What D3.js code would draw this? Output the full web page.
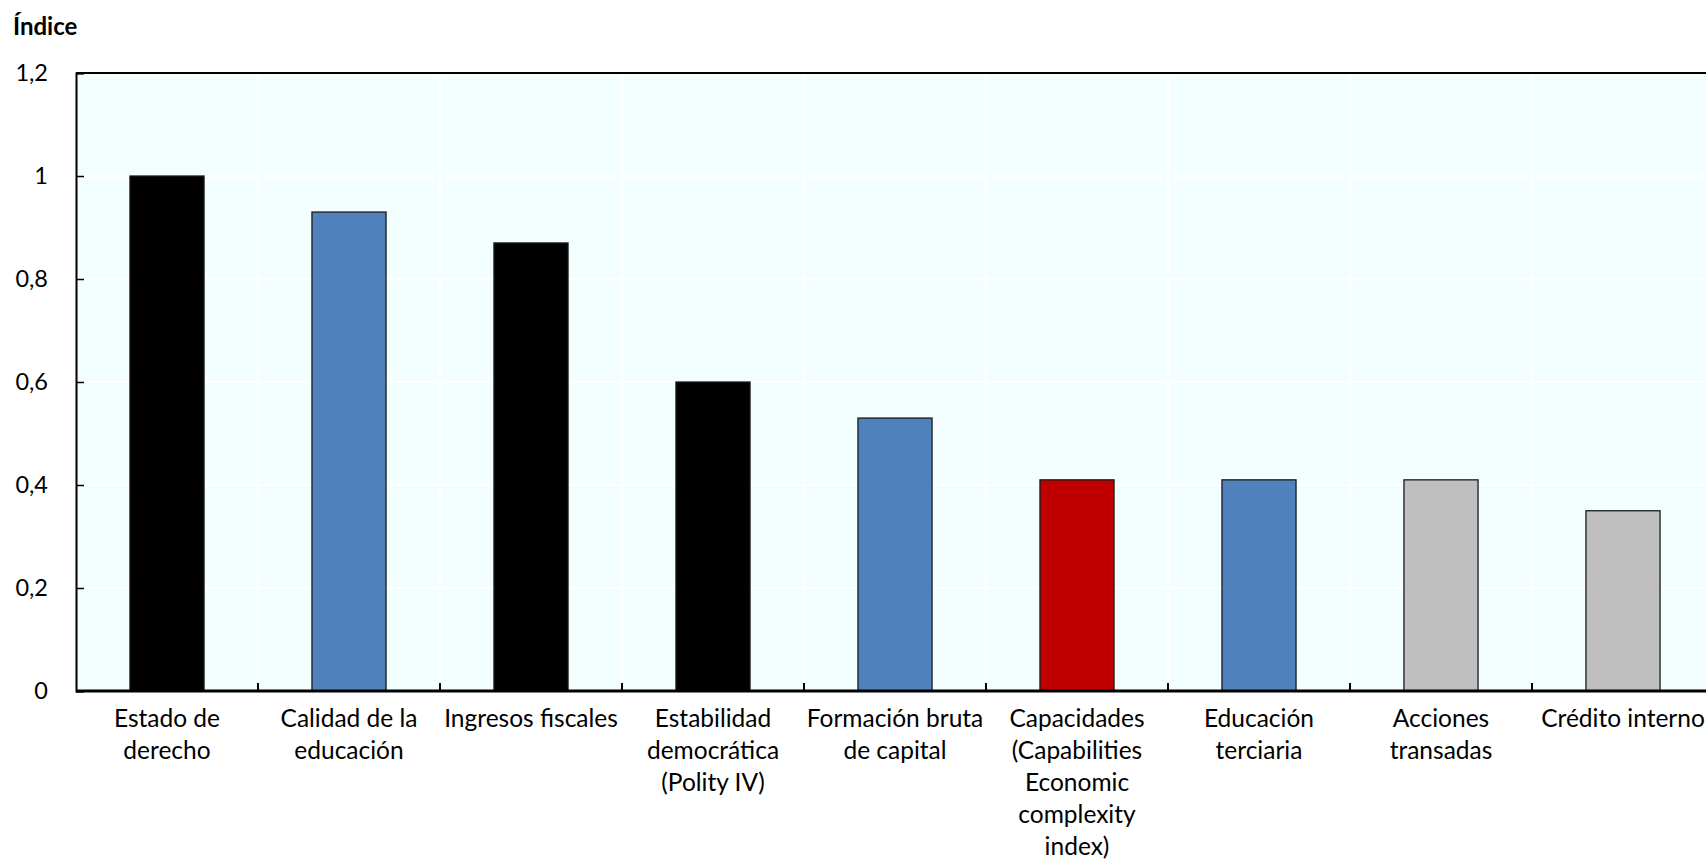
<!DOCTYPE html>
<html>
<head>
<meta charset="utf-8">
<script src="https://cdn.jsdelivr.net/npm/d3@7"></script>
<style>
  body { margin: 0; background: #fff; }
  svg text { font-family: Lato, "Open Sans", sans-serif; fill: #000; }
</style>
</head>
<body>
<div id="chart"></div>
<script>
// categories, one string per label line
var categories = [
    ["Estado de", "derecho"],
    ["Calidad de la", "educación"],
    ["Ingresos fiscales"],
    ["Estabilidad", "democrática", "(Polity IV)"],
    ["Formación bruta", "de capital"],
    ["Capacidades", "(Capabilities", "Economic", "complexity", "index)"],
    ["Educación", "terciaria"],
    ["Acciones", "transadas"],
    ["Crédito interno"]
];
var values = [1.0, 0.93, 0.87, 0.60, 0.53, 0.41, 0.41, 0.41, 0.35];
var groups = ["black", "blue", "black", "black", "blue", "red", "blue", "gray", "gray"];
var yTicks = [0, 0.2, 0.4, 0.6, 0.8, 1, 1.2];

var colors = {black: "#000000", blue: "#4f81bd", red: "#c00000", gray: "#bfbfbf"};

var W = 1706, H = 860;
var margin = {top: 73, left: 76, bottom: 169};
var plotRight = 1714;   // plot area runs a bit past the picture edge
var height = H - margin.top - margin.bottom;

var svg = d3.select("#chart").append("svg")
    .attr("width", W)
    .attr("height", H);

var keys = categories.map(function(d, i) { return i; });

var xScale = d3.scaleBand()
    .domain(keys)
    .range([margin.left, plotRight])
    .padding(0);

var yScale = d3.scaleLinear()
    .domain([0, 1.2])
    .range([margin.top + height, margin.top]);

var barW = xScale.bandwidth() * 0.407;

// plot background
svg.append("rect")
    .attr("x", margin.left)
    .attr("y", margin.top)
    .attr("width", plotRight - margin.left)
    .attr("height", height)
    .attr("fill", "#f3feff");

// white gridlines
svg.selectAll(".hgrid")
    .data(yTicks.slice(1))
    .enter().append("line")
    .attr("x1", margin.left).attr("x2", plotRight)
    .attr("y1", function(d) { return yScale(d); })
    .attr("y2", function(d) { return yScale(d); })
    .attr("stroke", "#fff").attr("stroke-width", 2);

svg.selectAll(".vgrid")
    .data(keys.slice(1))
    .enter().append("line")
    .attr("x1", function(d) { return xScale(d); })
    .attr("x2", function(d) { return xScale(d); })
    .attr("y1", margin.top).attr("y2", margin.top + height)
    .attr("stroke", "#fff").attr("stroke-width", 2);

// bars
svg.selectAll(".bar")
    .data(values)
    .enter().append("rect")
    .attr("class", "bar")
    .attr("x", function(d, i) { return xScale(i) + (xScale.bandwidth() - barW) / 2; })
    .attr("y", function(d) { return yScale(d); })
    .attr("width", barW)
    .attr("height", function(d) { return yScale(0) - yScale(d); })
    .attr("fill", function(d, i) { return colors[groups[i]]; })
    .attr("stroke", "#1a1a1a")
    .attr("stroke-width", 1.3);

// frame: top and left
svg.append("line")
    .attr("x1", margin.left).attr("x2", plotRight)
    .attr("y1", margin.top).attr("y2", margin.top)
    .attr("stroke", "#000").attr("stroke-width", 2);

// y axis, ticks pointing inward
var yAxis = d3.axisRight(yScale)
    .tickValues(yTicks)
    .tickSize(8)
    .tickFormat(function(d) { return d3.format("")(d).replace(".", ","); });

var gy = svg.append("g")
    .attr("transform", "translate(" + margin.left + ",0)")
    .call(yAxis);
gy.select(".domain").attr("stroke", "#000").attr("stroke-width", 2);
gy.selectAll(".tick line").attr("stroke", "#000").attr("stroke-width", 1.5);
gy.selectAll(".tick text")
    .attr("x", -28)
    .attr("text-anchor", "end")
    .attr("font-size", 23.5);

// x axis: ticks at category boundaries, pointing up
var xAxis = svg.append("g")
    .attr("transform", "translate(0," + yScale(0) + ")");
xAxis.append("line")
    .attr("x1", margin.left).attr("x2", plotRight)
    .attr("stroke", "#000").attr("stroke-width", 3);
xAxis.selectAll(".xtick")
    .data(keys.slice(1))
    .enter().append("line")
    .attr("x1", function(d) { return xScale(d); })
    .attr("x2", function(d) { return xScale(d); })
    .attr("y1", 0).attr("y2", -8)
    .attr("stroke", "#000").attr("stroke-width", 2);

var labels = xAxis.selectAll(".xlabel")
    .data(categories)
    .enter().append("text")
    .attr("class", "xlabel")
    .attr("text-anchor", "middle")
    .attr("font-size", 24.5)
    .attr("transform", function(d, i) {
        return "translate(" + (xScale(i) + xScale.bandwidth() / 2) + ",36)";
    });
labels.selectAll("tspan")
    .data(function(d) { return d; })
    .enter().append("tspan")
    .attr("x", 0)
    .attr("dy", function(d, j) { return j === 0 ? 0 : 32; })
    .text(function(d) { return d; });

// axis title
svg.append("text")
    .attr("x", 13)
    .attr("y", 35)
    .attr("font-size", 24)
    .attr("font-weight", "bold")
    .text("Índice");
</script>
</body>
</html>
